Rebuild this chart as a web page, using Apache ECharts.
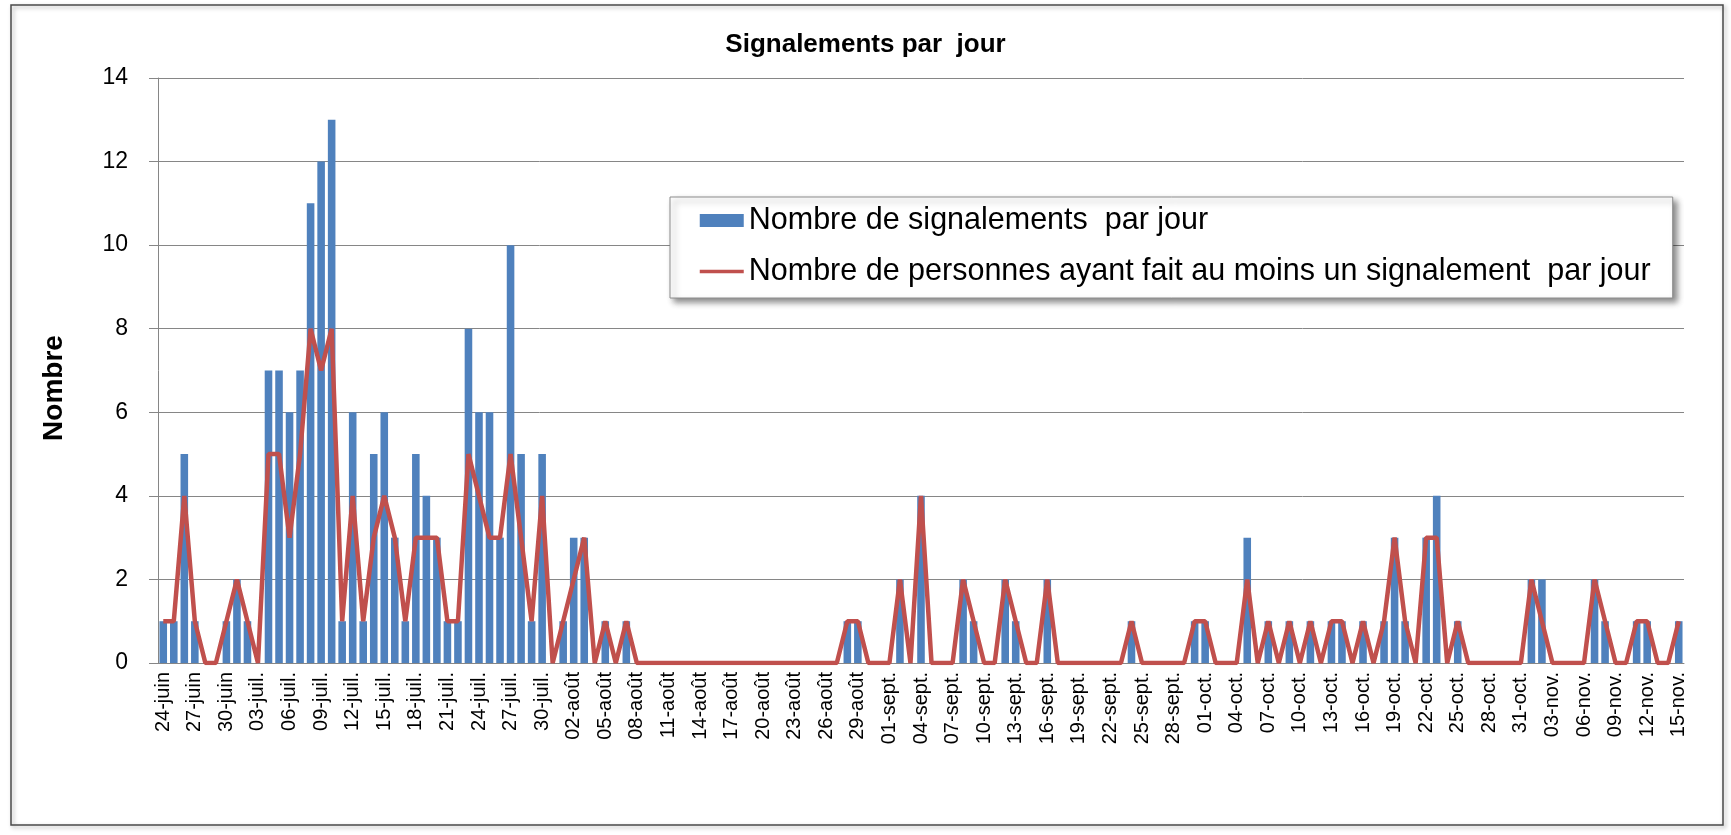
<!DOCTYPE html>
<html>
<head>
<meta charset="utf-8">
<title>Signalements par jour</title>
<script src="https://cdn.jsdelivr.net/npm/echarts@6/dist/echarts.min.js"></script>
<style>
  html, body { margin: 0; padding: 0; background: #fff; }
  #chart { width: 1731px; height: 835px; }
</style>
</head>
<body>
<div id="chart"></div>
<script>
// mois affichés : [libellé, premier jour, dernier jour]
var months = [
  ['juin', 24, 30],
  ['juil.', 1, 31],
  ['août', 1, 31],
  ['sept.', 1, 30],
  ['oct.', 1, 31],
  ['nov.', 1, 15]
];

// un libellé par jour, du 24 juin au 15 novembre
var days = [];
months.forEach(function (m) {
  for (var d = m[1]; d <= m[2]; d++) {
    days.push((d < 10 ? '0' : '') + d + '-' + m[0]);
  }
});

// nombre de signalements par jour (barres)
var signalements = [
  1, 1, 5, 1, 0, 0, 1, 2, 1, 0,
  7, 7, 6, 7, 11, 12, 13, 1, 6, 1,
  5, 6, 3, 1, 5, 4, 3, 1, 1, 8,
  6, 6, 3, 10, 5, 1, 5, 0, 1, 3,
  3, 0, 1, 0, 1, 0, 0, 0, 0, 0,
  0, 0, 0, 0, 0, 0, 0, 0, 0, 0,
  0, 0, 0, 0, 0, 1, 1, 0, 0, 0,
  2, 0, 4, 0, 0, 0, 2, 1, 0, 0,
  2, 1, 0, 0, 2, 0, 0, 0, 0, 0,
  0, 0, 1, 0, 0, 0, 0, 0, 1, 1,
  0, 0, 0, 3, 0, 1, 0, 1, 0, 1,
  0, 1, 1, 0, 1, 0, 1, 3, 1, 0,
  3, 4, 0, 1, 0, 0, 0, 0, 0, 0,
  2, 2, 0, 0, 0, 0, 2, 1, 0, 0,
  1, 1, 0, 0, 1
];

// nombre de personnes ayant fait au moins un signalement (ligne)
var personnes = [
  1, 1, 4, 1, 0, 0, 1, 2, 1, 0,
  5, 5, 3, 5, 8, 7, 8, 1, 4, 1,
  3, 4, 3, 1, 3, 3, 3, 1, 1, 5,
  4, 3, 3, 5, 3, 1, 4, 0, 1, 2,
  3, 0, 1, 0, 1, 0, 0, 0, 0, 0,
  0, 0, 0, 0, 0, 0, 0, 0, 0, 0,
  0, 0, 0, 0, 0, 1, 1, 0, 0, 0,
  2, 0, 4, 0, 0, 0, 2, 1, 0, 0,
  2, 1, 0, 0, 2, 0, 0, 0, 0, 0,
  0, 0, 1, 0, 0, 0, 0, 0, 1, 1,
  0, 0, 0, 2, 0, 1, 0, 1, 0, 1,
  0, 1, 1, 0, 1, 0, 1, 3, 1, 0,
  3, 3, 0, 1, 0, 0, 0, 0, 0, 0,
  2, 1, 0, 0, 0, 0, 2, 1, 0, 0,
  1, 1, 0, 0, 1
];

var yMin = 0, yMax = 14, yStep = 2;

var nomBarres = 'Nombre de signalements  par jour';
var nomLigne = 'Nombre de personnes ayant fait au moins un signalement  par jour';

var font = '"Liberation Sans", Arial, sans-serif';
var gris = '#868686';

var myChart = echarts.init(document.getElementById('chart'));

var option = {
  backgroundColor: '#fff',
  animation: false,
  title: {
    text: 'Signalements par  jour',
    left: 'center',
    top: 27,
    textStyle: { fontFamily: font, fontWeight: 'bold', fontSize: 26, color: '#000' }
  },
  graphic: [
    // cadre extérieur du graphique
    {
      type: 'rect',
      shape: { x: 11, y: 5, width: 1712, height: 820 },
      style: {
        fill: 'none', stroke: '#4a4a4a', lineWidth: 1.5,
        shadowColor: 'rgba(0,0,0,0.35)', shadowBlur: 4, shadowOffsetX: 2, shadowOffsetY: 2
      },
      z: -1
    },
    // titre de l'axe vertical
    {
      type: 'text',
      x: 54,
      y: 388,
      rotation: Math.PI / 2,
      style: {
        text: 'Nombre',
        align: 'center',
        verticalAlign: 'middle',
        fontFamily: font,
        fontWeight: 'bold',
        fontSize: 28,
        fill: '#000'
      }
    }
  ],
  legend: {
    orient: 'vertical',
    left: 670,
    top: 197,
    padding: [8, 22, 11, 28],
    itemGap: 20,
    itemWidth: 44,
    itemHeight: 13,
    backgroundColor: '#fff',
    borderColor: '#8c8c8c',
    borderWidth: 1,
    shadowColor: 'rgba(0,0,0,0.45)',
    shadowBlur: 6,
    shadowOffsetX: 4,
    shadowOffsetY: 4,
    textStyle: { fontFamily: font, fontSize: 30.5, color: '#000' },
    data: [
      { name: nomBarres, icon: 'rect' },
      { name: nomLigne, itemStyle: { opacity: 0 }, lineStyle: { width: 3.5 } }
    ]
  },
  grid: {
    left: 158,
    right: 47,
    top: 78,
    bottom: 172
  },
  xAxis: {
    type: 'category',
    data: days,
    boundaryGap: true,
    axisLine: { lineStyle: { color: gris } },
    axisTick: { interval: 2, length: 7, lineStyle: { color: gris } },
    axisLabel: {
      interval: 2,
      rotate: 90,
      margin: 9,
      fontFamily: font,
      fontSize: 20,
      color: '#000'
    },
    splitLine: { show: false }
  },
  yAxis: {
    type: 'value',
    min: yMin,
    max: yMax,
    interval: yStep,
    axisLine: { show: true, lineStyle: { color: gris } },
    axisTick: { show: true, inside: false, length: 9, lineStyle: { color: gris } },
    axisLabel: { fontFamily: font, fontSize: 23, color: '#000', margin: 30 },
    splitLine: { show: true, lineStyle: { color: gris, width: 1 } }
  },
  series: [
    {
      name: nomBarres,
      type: 'bar',
      data: signalements,
      barCategoryGap: '28%',
      itemStyle: { color: '#4F81BD' }
    },
    {
      name: nomLigne,
      type: 'line',
      data: personnes,
      symbol: 'none',
      showSymbol: false,
      lineStyle: { color: '#C0504D', width: 4.5 },
      itemStyle: { color: '#C0504D' },
      z: 3
    }
  ]
};

myChart.setOption(option);

window.onresize = function () {
  myChart.resize();
};
</script>
</body>
</html>
